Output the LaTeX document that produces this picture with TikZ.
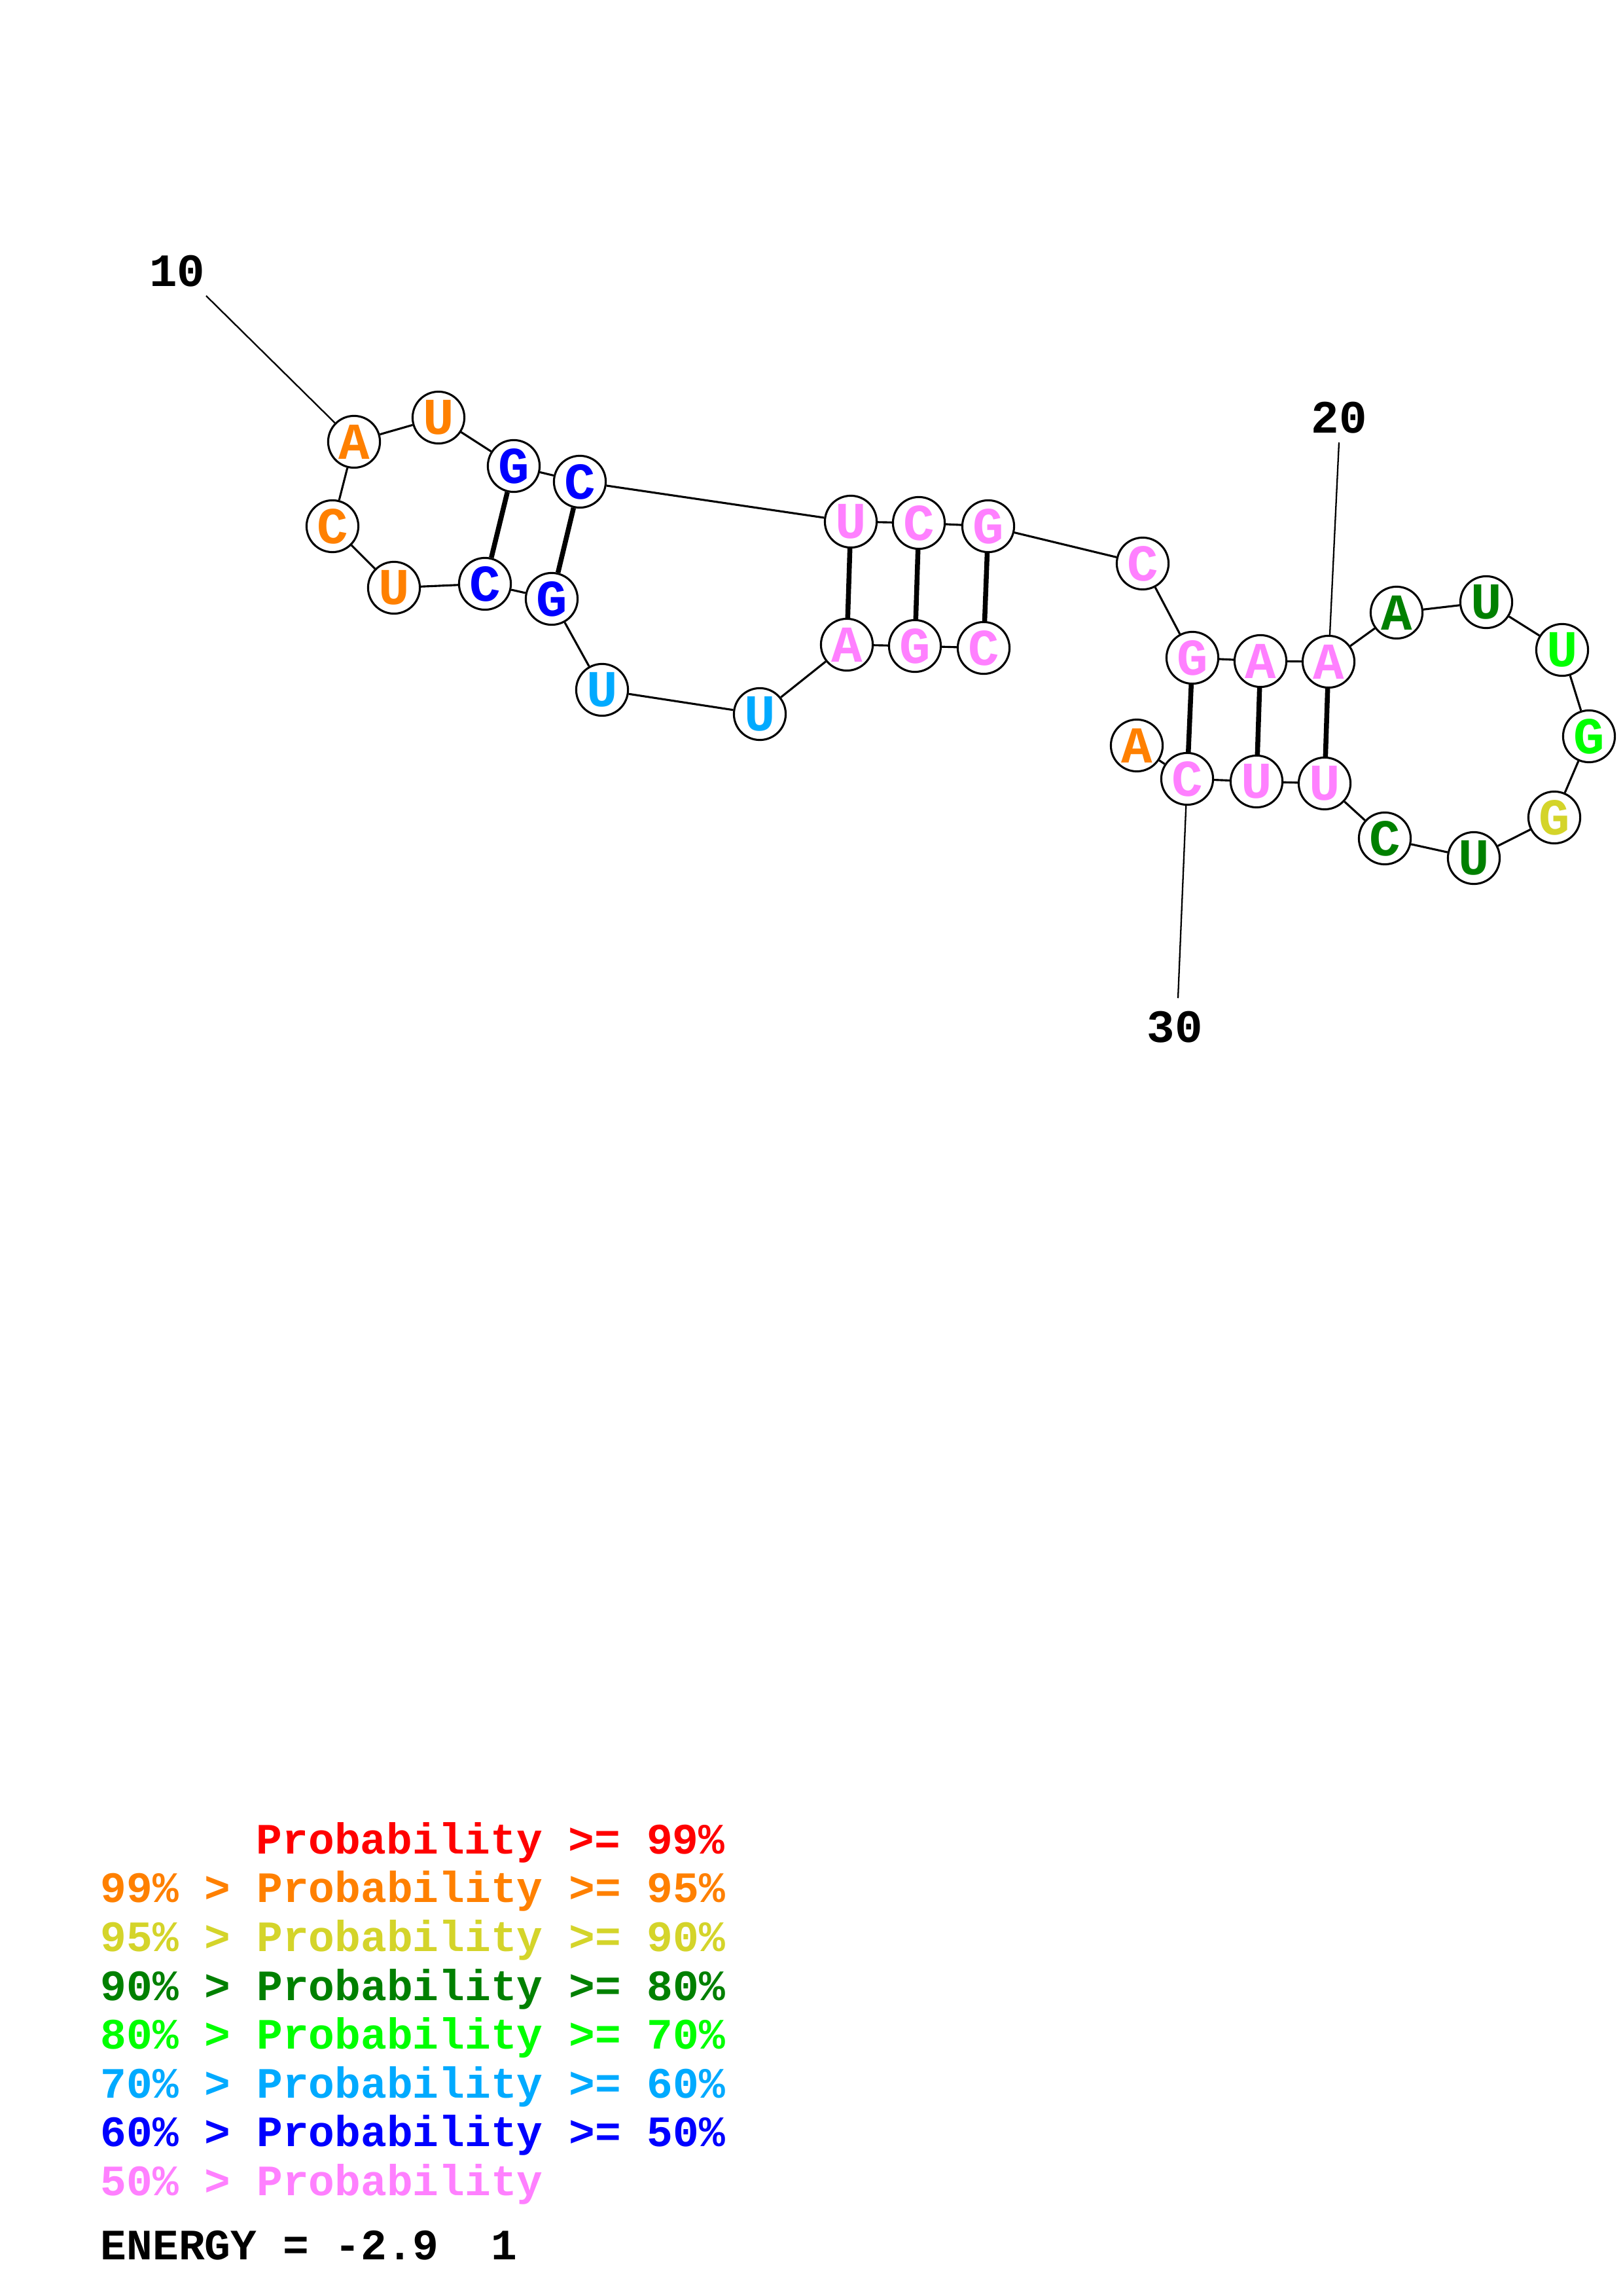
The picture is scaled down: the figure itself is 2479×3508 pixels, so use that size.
\documentclass[tikz,border=0pt]{standalone}
\usepackage{fontspec}
\setmainfont{Liberation Mono}
\definecolor{pA}{RGB}{255,0,0}
\definecolor{pB}{RGB}{255,128,0}
\definecolor{pC}{RGB}{212,212,42}
\definecolor{pD}{RGB}{0,128,0}
\definecolor{pE}{RGB}{0,255,0}
\definecolor{pF}{RGB}{0,170,255}
\definecolor{pG}{RGB}{0,0,255}
\definecolor{pH}{RGB}{255,128,255}
\begin{document}
\begin{tikzpicture}[x=0.24pt,y=-0.24pt,
  nt/.style={circle,draw=black,fill=white,line width=0.75pt,minimum size=19pt,inner sep=0pt,font=\fontsize{19}{19}\selectfont\bfseries},
  bb/.style={line width=0.75pt},
  bp/.style={line width=1.8pt},
  lbl/.style={font=\fontsize{17}{17}\selectfont\bfseries},
  leg/.style={anchor=base west,inner sep=0pt,font=\fontsize{15.9}{16}\selectfont\bfseries}]
\fill[white] (0,0) rectangle (2479,3508);
\useasboundingbox (0,0) rectangle (2479,3508);
\foreach \i/\x/\y/\b/\c in {
 1/1503/990/C/pH, 2/1398/987/G/pH, 3/1294/985/A/pH, 4/1161/1091/U/pF,
 5/920/1054/U/pF, 6/843/915/G/pG, 7/741/892/C/pG, 8/602/898/U/pB,
 9/508/804/C/pB, 10/541/675/A/pB, 11/670/638/U/pB, 12/785/712/G/pG,
 13/886/736/C/pG, 14/1300/797/U/pH, 15/1404/799/C/pH, 16/1510/804/G/pH,
 17/1746/861/C/pH, 18/1822/1005/G/pH, 19/1926/1010/A/pH, 20/2030/1011/A/pH,
 21/2134/936/A/pD, 22/2271/920/U/pD, 23/2387/993/U/pE, 24/2428/1125/G/pE,
 25/2375/1249/G/pC, 26/2252/1311/U/pD, 27/2116/1281/C/pD, 28/2024/1197/U/pH,
 29/1920/1194/U/pH, 30/1814/1190/C/pH, 31/1737/1139/A/pB}
 {\node[nt,text=\c] (n\i) at (\x,\y) {\b};}
\foreach \i in {1,...,30}{
  \pgfmathtruncatemacro\j{\i+1}
  \draw[bb] (n\i) -- (n\j);
}
\foreach \a/\b in {12/7,13/6,14/3,15/2,16/1,18/30,19/29,20/28}
  \draw[bp] (n\a) -- (n\b);
% number labels
\node[lbl] (l10) at (271,414) {10};
\node[lbl] (l20) at (2046,638) {20};
\node[lbl] (l30) at (1795,1569) {30};
\coordinate (c10) at (315,452);
\coordinate (c20) at (2046,676);
\coordinate (c30) at (1800,1525);
\draw[line width=0.55pt] (c10) -- (n10);
\draw[line width=0.55pt] (c20) -- (n20);
\draw[line width=0.55pt] (n30) -- (c30);
% legend
\node[leg,text=pA] (r1) at (391,2832) {Probability >= 99\%};
\node[leg,text=pB] (r2) at (153,2906) {99\% > Probability >= 95\%};
\node[leg,text=pC] (r3) at (153,2981) {95\% > Probability >= 90\%};
\node[leg,text=pD] (r4) at (153,3056) {90\% > Probability >= 80\%};
\node[leg,text=pE] (r5) at (153,3130) {80\% > Probability >= 70\%};
\node[leg,text=pF] (r6) at (153,3205) {70\% > Probability >= 60\%};
\node[leg,text=pG] (r7) at (153,3279) {60\% > Probability >= 50\%};
\node[leg,text=pH] (r8) at (153,3354) {50\% > Probability};
\node[leg,text=black] (en) at (153,3452) {ENERGY = -2.9\ \ 1};
\end{tikzpicture}
\end{document}
